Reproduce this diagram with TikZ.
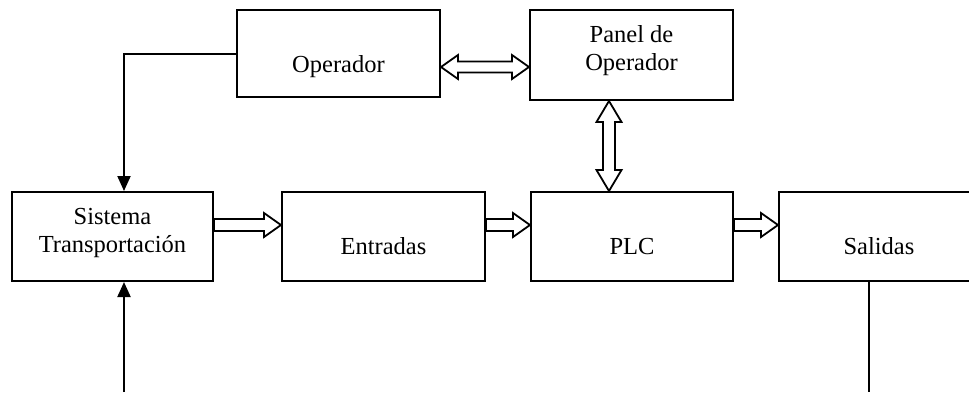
\documentclass[tikz,border=0pt]{standalone}
\usepackage{fontspec}
\setmainfont{Liberation Serif}
\usetikzlibrary{arrows.meta,calc}
\tikzset{
  box/.style={draw, line width=2pt, inner sep=0pt},
  txt/.style={inner sep=0pt, font=\fontsize{24.5}{28}\selectfont, align=center},
  fat/.style={draw, fill=white, line width=1.8pt, line join=miter},
  link/.style={draw, line width=2pt, -{Triangle[length=15pt,width=13pt]}},
  plain/.style={draw, line width=2pt}
}
% horizontal single fat arrow from #1 to #2
\newcommand\fatH[2]{\draw[fat] let \p1=(#1), \p2=(#2) in
  (\x1,\y1+6) -- (\x2-17,\y1+6) -- (\x2-17,\y1+12) -- (\x2,\y1) --
  (\x2-17,\y1-12) -- (\x2-17,\y1-6) -- (\x1,\y1-6) -- cycle;}
% horizontal double fat arrow from #1 to #2
\newcommand\fatHH[2]{\draw[fat] let \p1=(#1), \p2=(#2) in
  (\x1,\y1) -- (\x1+17,\y1+12) -- (\x1+17,\y1+5.5) -- (\x2-17,\y1+5.5) --
  (\x2-17,\y1+12) -- (\x2,\y1) -- (\x2-17,\y1-12) -- (\x2-17,\y1-5.5) --
  (\x1+17,\y1-5.5) -- (\x1+17,\y1-12) -- cycle;}
% vertical double fat arrow from #1 (top) to #2 (bottom)
\newcommand\fatVV[2]{\draw[fat] let \p1=(#1), \p2=(#2) in
  (\x1,\y1) -- (\x1+12.5,\y1-21) -- (\x1+6,\y1-21) -- (\x1+6,\y2+21) --
  (\x1+12.5,\y2+21) -- (\x1,\y2) -- (\x1-12.5,\y2+21) -- (\x1-6,\y2+21) --
  (\x1-6,\y1-21) -- (\x1-12.5,\y1-21) -- cycle;}
\begin{document}
\begin{tikzpicture}[x=1pt,y=-1pt]
\clip (0,0) rectangle (969,392);
% boxes
\node[box, minimum width=203pt, minimum height=87pt] (op)  at (338.5,53.5) {};
\node[box, minimum width=203pt, minimum height=90pt] (pan) at (631.5,55) {};
\node[box, minimum width=201pt, minimum height=89pt] (sis) at (112.5,236.5) {};
\node[box, minimum width=203pt, minimum height=89pt] (ent) at (383.5,236.5) {};
\node[box, minimum width=202pt, minimum height=89pt] (plc) at (632,236.5) {};
\node[box, minimum width=202pt, minimum height=89pt] (sal) at (880,236.5) {};
% texts
\node[txt, anchor=base] (opt)  at (338.5,72) {Operador};
\node[txt] (pant) at (631.5,51) {Panel de\\Operador};
\node[txt] (sist) at (112.5,233) {Sistema\\Transportación};
\node[txt, anchor=base] (entt) at (383.5,254) {Entradas};
\node[txt, anchor=base] (plct) at (632,254) {PLC};
\node[txt, anchor=base] (salt) at (879,254) {Salidas};
% helper coordinates
\coordinate (ya) at (0,67);
\coordinate (yb) at (0,225);
\coordinate (xv) at (609,0);
\coordinate (xl) at (124,0);
\coordinate (xr) at (869,0);
\coordinate (bl) at (124,392);
\coordinate (br) at (869,392);
% fat arrows
\fatHH{op.east |- ya}{pan.west |- ya}
\fatVV{xv |- pan.south}{xv |- plc.north}
\fatH{sis.east |- yb}{ent.west |- yb}
\fatH{ent.east |- yb}{plc.west |- yb}
\fatH{plc.east |- yb}{sal.west |- yb}
% thin connectors
\draw[link] (op.west) -| (xl |- sis.north);
\draw[link] (bl) -- (xl |- sis.south);
\draw[plain] (xr |- sal.south) -- (br);
\end{tikzpicture}
\end{document}
